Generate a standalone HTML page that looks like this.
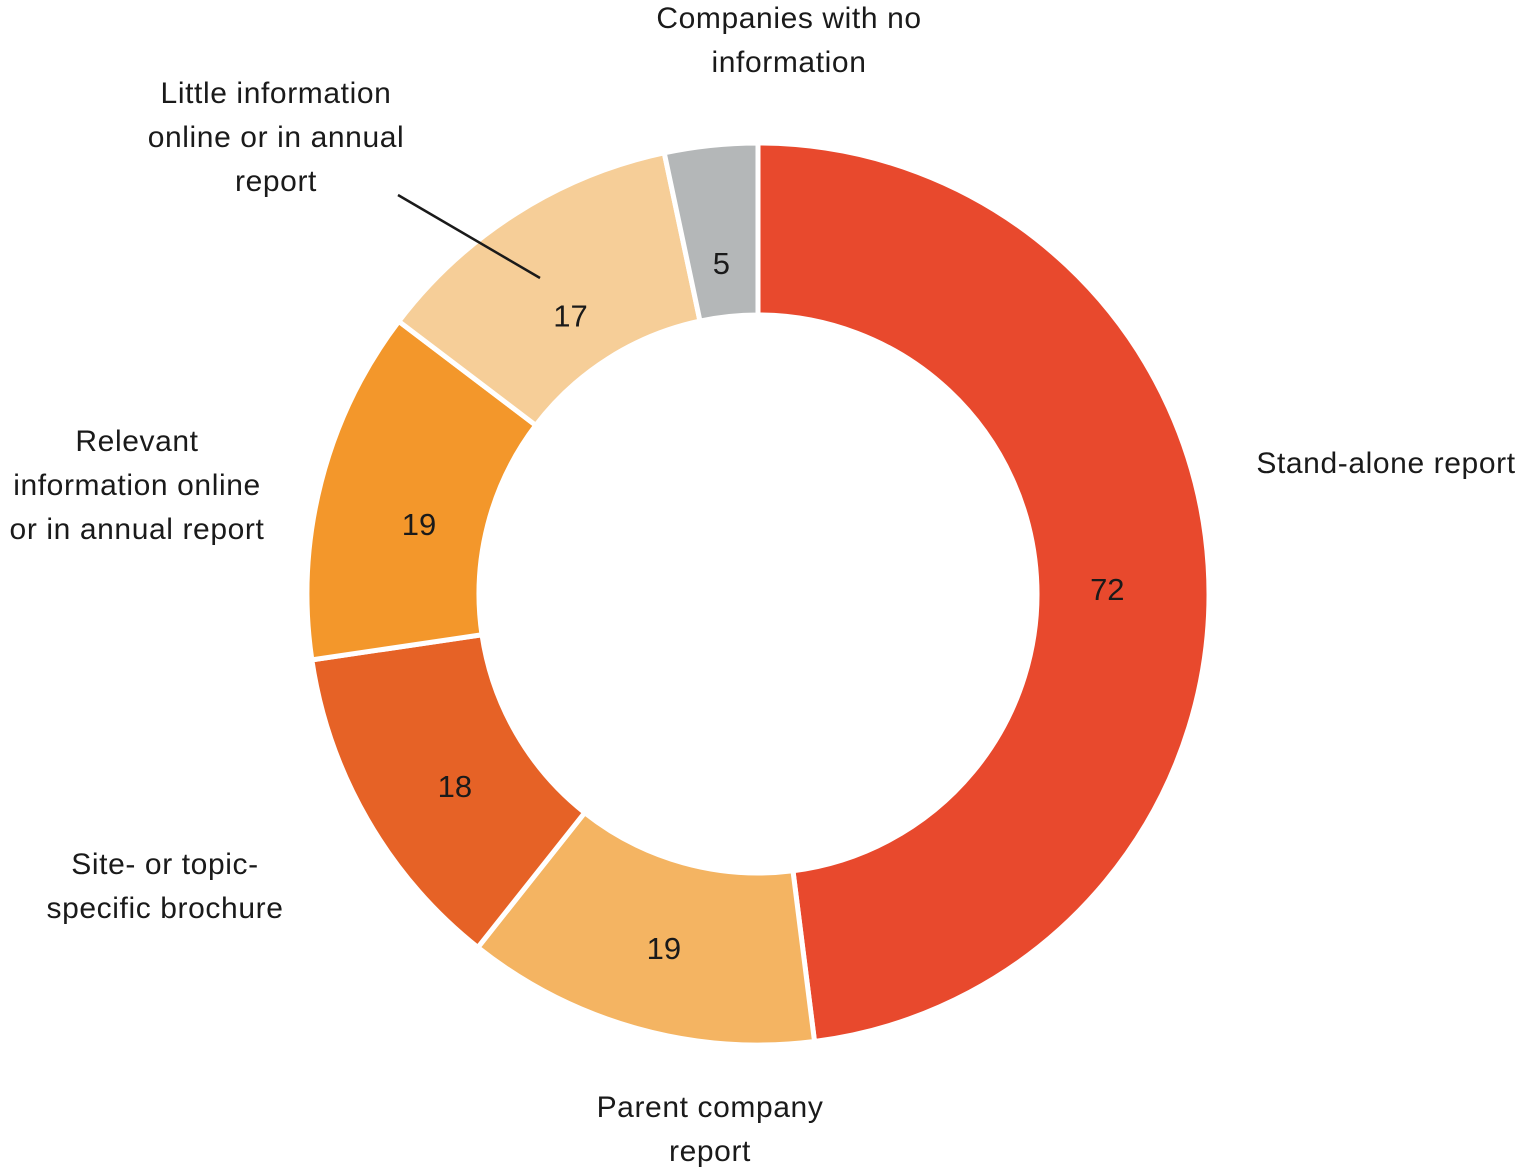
<!DOCTYPE html>
<html><head><meta charset="utf-8"><style>
html,body{margin:0;padding:0;background:#fff;}
svg{display:block;font-family:"Liberation Sans",sans-serif;}
</style></head><body>
<svg id="chart" width="1524" height="1172" viewBox="0 0 1524 1172">
<g id="slices"></g>
<g id="values"></g>
<g id="cats" font-size="30" letter-spacing="0.6" fill="#1a1a1a" text-anchor="middle">
<text x="1386" y="473">Stand-alone report</text>
<text x="710" y="1117"><tspan x="710">Parent company</tspan><tspan x="710" dy="44">report</tspan></text>
<text x="165" y="874"><tspan x="165">Site- or topic-</tspan><tspan x="165" dy="44">specific brochure</tspan></text>
<text x="137" y="451"><tspan x="137">Relevant</tspan><tspan x="137" dy="44">information online</tspan><tspan x="137" dy="44">or in annual report</tspan></text>
<text x="276" y="103"><tspan x="276">Little information</tspan><tspan x="276" dy="44">online or in annual</tspan><tspan x="276" dy="44">report</tspan></text>
<text x="789" y="28"><tspan x="789">Companies with no</tspan><tspan x="789" dy="44">information</tspan></text>
</g>
<line x1="398" y1="195" x2="540" y2="278" stroke="#1a1a1a" stroke-width="2.5"/>
</svg>
<script>
const categories = ["Stand-alone report","Parent company report","Site- or topic-specific brochure","Relevant information online or in annual report","Little information online or in annual report","Companies with no information"];
const values = [72,19,18,19,17,5];
const colors = ["#E8492D","#F4B462","#E66226","#F3972B","#F6CE98","#B4B7B8"];
const cx=758, cy=594, rO=451, rI=279;
const total = values.reduce((a,b)=>a+b,0);
const ns="http://www.w3.org/2000/svg";
function pt(r,a){return [cx+r*Math.sin(a), cy-r*Math.cos(a)];}
let a0=0;
const gS=document.getElementById('slices'), gV=document.getElementById('values');
values.forEach((v,i)=>{
  const a1=a0+v/total*2*Math.PI;
  const large=(a1-a0)>Math.PI?1:0;
  const p1=pt(rO,a0),p2=pt(rO,a1),p3=pt(rI,a1),p4=pt(rI,a0);
  const path=document.createElementNS(ns,'path');
  path.setAttribute('d',`M${p1[0]},${p1[1]} A${rO},${rO} 0 ${large} 1 ${p2[0]},${p2[1]} L${p3[0]},${p3[1]} A${rI},${rI} 0 ${large} 0 ${p4[0]},${p4[1]} Z`);
  path.setAttribute('fill',colors[i]);
  path.setAttribute('stroke','#fff');
  path.setAttribute('stroke-width','5');
  
  
  gS.appendChild(path);
  const m=(a0+a1)/2;
  const lp=pt(350,m);
  const t=document.createElementNS(ns,'text');
  t.setAttribute('x',lp[0]);t.setAttribute('y',lp[1]+28);
  t.setAttribute('text-anchor','middle');t.setAttribute('font-size','31');t.setAttribute('fill','#1a1a1a');
  t.textContent=values[i];
  
  
  gV.appendChild(t);
  a0=a1;
});
</script>
</body></html>
